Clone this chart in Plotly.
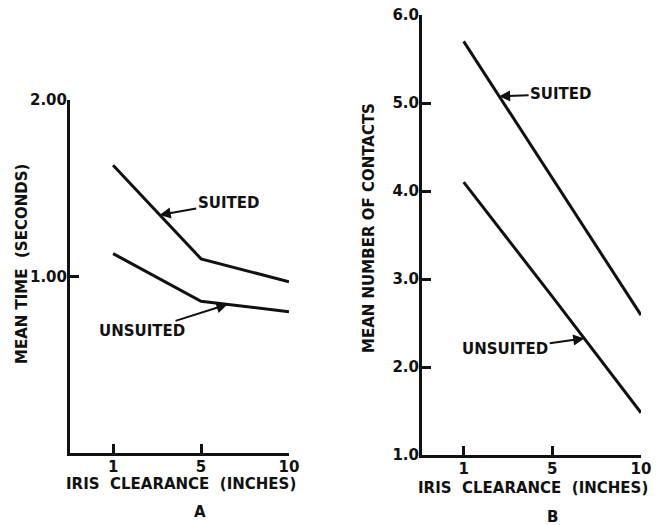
import plotly.graph_objects as go

# Iris clearance settings (inches) shared by both panels
clearance = ["1", "5", "10"]

# Panel A: mean time (seconds)
time_suited = [1.63, 1.10, 0.97]
time_unsuited = [1.13, 0.86, 0.80]

# Panel B: mean number of contacts
contacts_suited = [5.70, 4.14, 2.59]
contacts_unsuited = [4.10, 2.80, 1.48]

time_ticks = [1.0, 2.0]
time_ticktext = ["1.00", "2.00"]
contact_ticks = [1, 2, 3, 4, 5, 6]
contact_ticktext = ["1.0", "2.0", "3.0", "4.0", "5.0", "6.0"]

W, H = 662, 525
INK = "#111111"
FONT = dict(family="DejaVu Sans", size=15, color=INK, weight="bold")


def along(series, pos):
    """Point on a polyline at a fractional category index."""
    i = min(int(pos), len(series) - 2)
    f = pos - i
    return series[i] + f * (series[i + 1] - series[i])


fig = go.Figure()
line_style = dict(color=INK, width=3)
fig.add_trace(go.Scatter(x=clearance, y=time_suited, mode="lines", line=line_style,
                         xaxis="x", yaxis="y", showlegend=False))
fig.add_trace(go.Scatter(x=clearance, y=time_unsuited, mode="lines", line=line_style,
                         xaxis="x", yaxis="y", showlegend=False))
fig.add_trace(go.Scatter(x=clearance, y=contacts_suited, mode="lines", line=line_style,
                         xaxis="x2", yaxis="y2", showlegend=False))
fig.add_trace(go.Scatter(x=clearance, y=contacts_unsuited, mode="lines", line=line_style,
                         xaxis="x2", yaxis="y2", showlegend=False))

axis_common = dict(showline=True, linecolor=INK, linewidth=3, showgrid=False,
                   zeroline=False, ticks="inside", ticklen=9, tickwidth=3,
                   tickcolor=INK, tickfont=FONT, automargin=False)

fig.update_layout(
    width=W, height=H,
    margin=dict(l=0, r=0, t=0, b=0, pad=0),
    paper_bgcolor="white", plot_bgcolor="white",
    xaxis=dict(axis_common, type="category", domain=[70 / W, 289 / W],
               range=[-0.49, 2.0], anchor="y", ticklabelstandoff=-2),
    yaxis=dict(axis_common, domain=[1 - 453 / H, 1 - 100 / H], range=[0, 2.0],
               tickvals=time_ticks, ticktext=time_ticktext, anchor="x",
               ticklabelstandoff=-3),
    xaxis2=dict(axis_common, type="category", domain=[422 / W, 641 / W],
                range=[-0.47, 2.0], anchor="y2", ticklabelstandoff=-2),
    yaxis2=dict(axis_common, domain=[1 - 455 / H, 1 - 15 / H], range=[1, 6],
                tickvals=contact_ticks, ticktext=contact_ticktext, anchor="x2",
                ticklabelstandoff=-3),
)

arrow = dict(showarrow=True, arrowhead=2, arrowsize=1.1, arrowwidth=2,
             arrowcolor=INK, font=FONT)

notes = [
    ("x", "y", time_suited, 0.53, "SUITED", 69, -12),
    ("x", "y", time_unsuited, 1.30, "UNSUITED", -85, 27),
    ("x2", "y2", contacts_suited, 0.40, "SUITED", 62, -2),
    ("x2", "y2", contacts_unsuited, 1.36, "UNSUITED", -79, 11),
]
for xr, yr, series, pos, label, ax, ay in notes:
    fig.add_annotation(x=pos, y=along(series, pos), xref=xr, yref=yr,
                       text=label, ax=ax, ay=ay, **arrow)

plain = dict(showarrow=False, font=FONT, xref="paper", yref="paper",
             xanchor="center", yanchor="middle")
fig.add_annotation(x=22 / W, y=1 - 264 / H, text="MEAN TIME  (SECONDS)", textangle=-90, **plain)
fig.add_annotation(x=369 / W, y=1 - 228 / H, text="MEAN NUMBER OF CONTACTS", textangle=-90, **plain)
fig.add_annotation(x=181 / W, y=1 - 484 / H, text="IRIS  CLEARANCE  (INCHES)", **plain)
fig.add_annotation(x=533 / W, y=1 - 488 / H, text="IRIS  CLEARANCE  (INCHES)", **plain)
fig.add_annotation(x=200 / W, y=1 - 512 / H, text="A", **plain)
fig.add_annotation(x=552 / W, y=1 - 517 / H, text="B", **plain)

fig.write_html("out.html")
